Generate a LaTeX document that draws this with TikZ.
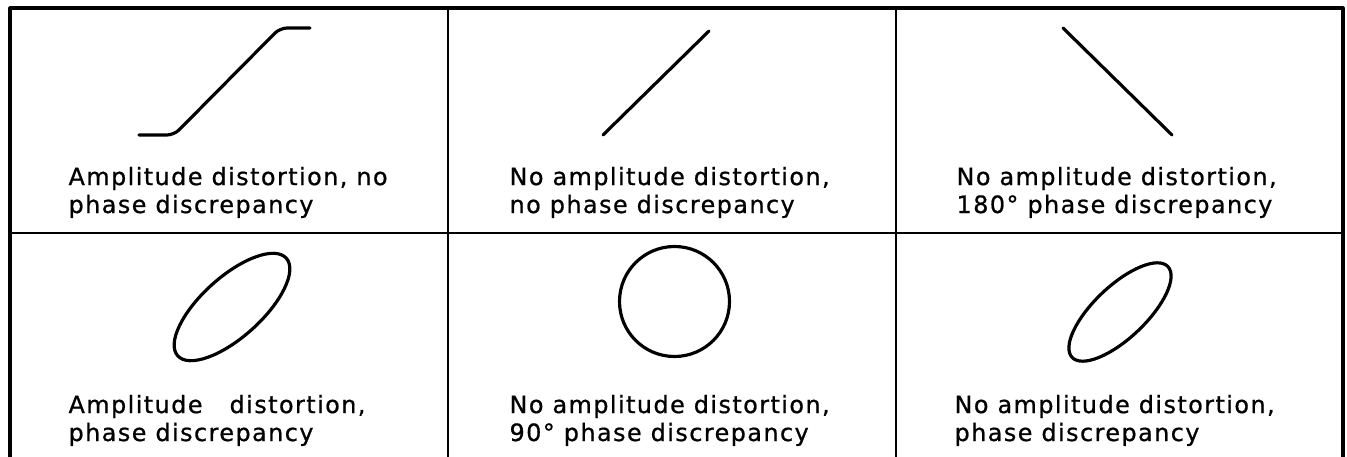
\documentclass[tikz,border=0pt]{standalone}
\usepackage{fontspec}
\newfontfamily\labfont[LetterSpace=6.0, FakeBold=0.8]{DejaVu Sans}

\begin{document}
\begin{tikzpicture}[
  x=0.2mm, y=-0.2mm, line width=1.8pt, line cap=round, line join=round,
  lab/.style={anchor=base west, align=left, inner sep=0pt,
    font=\labfont\fontsize{13.6}{15.9}\selectfont},
]

\useasboundingbox (0,0) rectangle (1347,457);

% 表格框线（下边没有）
\draw[line width=1.8pt, line cap=butt] (10,457) -- (10,8) -- (1343,8) -- (1343,457);
\draw[line width=1.2pt, line cap=butt] (448,8) -- (448,457);
\draw[line width=1.2pt, line cap=butt] (896,8) -- (896,457);
\draw[line width=1.2pt, line cap=butt] (10,233) -- (1343,233);

% 第一行：饱和曲线、上升直线、下降直线
\draw[rounded corners=4pt] (139,135) -- (174,135) -- (280,28) -- (310,28);
\draw (603,135) -- (709,31);
\draw (1063,28) -- (1172,135);

% 第二行：椭圆、圆、窄椭圆
\draw[rotate around={42:(232,307)}] (232,307) ellipse [x radius=73, y radius=30];
\draw (674.5,301.5) circle [radius=55];
\draw[rotate around={43.5:(1120,312)}] (1120,312) ellipse [x radius=66, y radius=26];

% 说明文字（base 锚点在第二行）
\node[lab] (labA) at (67,213) {Amplitude distortion, no\\phase discrepancy};
\node[lab] (labB) at (508,213) {No amplitude distortion,\\no phase discrepancy};
\node[lab] (labC) at (955,213) {No amplitude distortion,\\180° phase discrepancy};
\node[lab] (labD) at (67,441) {Amplitude\ \ \ distortion,\\phase discrepancy};
\node[lab] (labE) at (508,441) {No amplitude distortion,\\90° phase discrepancy};
\node[lab] (labF) at (953,441) {No amplitude distortion,\\phase discrepancy};

\end{tikzpicture}
\end{document}
